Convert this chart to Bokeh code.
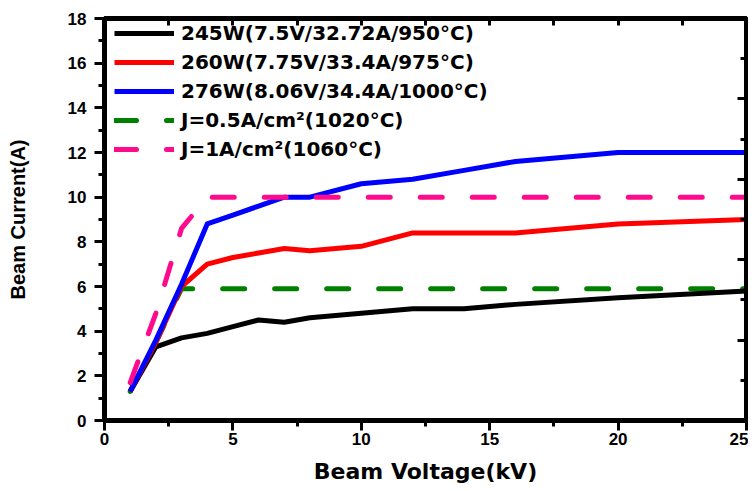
from bokeh.plotting import figure
from bokeh.models import (Range1d, LinearAxis, FixedTicker, SingleIntervalTicker,
                          Legend, LegendItem)
from bokeh.embed import file_html
from bokeh.resources import INLINE

# ---- data ----
voltage = [1, 2, 3, 4, 5, 6, 7, 8, 10, 12, 14, 16, 20, 25]
current_245w = [1.3, 3.3, 3.7, 3.9, 4.2, 4.5, 4.4, 4.6, 4.8, 5.0, 5.0, 5.2, 5.5, 5.8]
current_260w = [1.3, 3.5, 6.0, 7.0, 7.3, 7.5, 7.7, 7.6, 7.8, 8.4, 8.4, 8.4, 8.8, 9.0]
current_276w = [1.3, 3.6, 6.1, 8.8, 9.2, 9.6, 10.0, 10.0, 10.6, 10.8, 11.2, 11.6, 12.0, 12.0]
j05_voltage = [1, 2, 3, 25]
j05_current = [1.3, 3.5, 5.9, 5.9]
j1_voltage = [1, 2, 3, 4, 25]
j1_current = [1.7, 4.8, 8.6, 10.0, 10.0]

labels = ["245W(7.5V/32.72A/950°C)", "260W(7.75V/33.4A/975°C)",
          "276W(8.06V/34.4A/1000°C)", "J=0.5A/cm²(1020°C)", "J=1A/cm²(1060°C)"]
x_ticks = [0, 5, 10, 15, 20, 25]
x_minor = [2.5, 7.5, 12.5, 17.5, 22.5]
y_ticks = [0, 2, 4, 6, 8, 10, 12, 14, 16, 18]
y_minor = [1, 3, 5, 7, 9, 11, 13, 15, 17]
right_major = [0, 3.6, 7.2, 10.8, 14.4, 18]
right_minor = [1.8, 5.4, 9.0, 12.6, 16.2]

p = figure(width=748, height=489, output_backend="svg", toolbar_location=None,
           x_range=Range1d(0, 25), y_range=Range1d(0, 18),
           min_border_left=104, min_border_right=2, min_border_top=18, min_border_bottom=69,
           background_fill_color="white", border_fill_color="white")
p.grid.visible = False
p.outline_line_color = "black"
p.outline_line_width = 5

TICK_FONT = "Liberation Sans"

xa = p.xaxis[0]
xa.ticker = FixedTicker(ticks=x_ticks, minor_ticks=x_minor)
xa.axis_label = "Beam Voltage(kV)"
xa.axis_label_text_font = "DejaVu Sans"
xa.axis_label_text_font_style = "bold"
xa.axis_label_text_font_size = "22px"
xa.axis_label_standoff = 11
ya = p.yaxis[0]
ya.ticker = FixedTicker(ticks=y_ticks, minor_ticks=y_minor)
ya.axis_label = "Beam Current(A)"
ya.axis_label_text_font = "Liberation Sans"
ya.axis_label_text_font_style = "bold"
ya.axis_label_text_font_size = "20px"
ya.axis_label_standoff = 36

for ax, standoff in ((xa, 2), (ya, 8)):
    ax.axis_line_width = 5
    ax.axis_line_color = "black"
    ax.major_tick_out = 10
    ax.major_tick_in = 0
    ax.minor_tick_out = 6
    ax.minor_tick_in = 0
    ax.major_tick_line_width = 3
    ax.minor_tick_line_width = 3
    ax.major_label_text_font = TICK_FONT
    ax.major_label_text_font_style = "bold"
    ax.major_label_text_font_size = "17px"
    ax.major_label_text_color = "black"
    ax.axis_label_text_color = "black"
    ax.major_label_standoff = standoff

top = LinearAxis(ticker=SingleIntervalTicker(interval=2.5, num_minor_ticks=0))
right = LinearAxis(ticker=FixedTicker(ticks=right_major, minor_ticks=right_minor))
for ax, tin, mtin in ((top, 7, 0), (right, 9, 6)):
    ax.axis_line_width = 5
    ax.major_tick_in = tin
    ax.major_tick_out = 0
    ax.minor_tick_in = mtin
    ax.minor_tick_out = 0
    ax.major_tick_line_width = 3
    ax.minor_tick_line_width = 3
    ax.major_label_text_font_size = "1px"
    ax.major_label_text_color = None
    ax.major_label_standoff = 0
p.add_layout(top, "above")
p.add_layout(right, "right")

dash = "22 30"
r_j05 = p.line(j05_voltage, j05_current, line_color="#008000", line_width=5,
               line_dash=dash, line_cap="round", line_join="round")
r_245 = p.line(voltage, current_245w, line_color="black", line_width=5, line_join="round")
r_260 = p.line(voltage, current_260w, line_color="#FF0000", line_width=5, line_join="round")
r_276 = p.line(voltage, current_276w, line_color="#0000FF", line_width=5, line_join="round")
r_j1 = p.line(j1_voltage, j1_current, line_color="#FF0A8C", line_width=5,
              line_dash=dash, line_cap="round", line_join="round")

legend = Legend(items=[LegendItem(label=labels[0], renderers=[r_245]),
                       LegendItem(label=labels[1], renderers=[r_260]),
                       LegendItem(label=labels[2], renderers=[r_276]),
                       LegendItem(label=labels[3], renderers=[r_j05]),
                       LegendItem(label=labels[4], renderers=[r_j1])],
                location=(10, 257), margin=0, padding=0, spacing=1,
                glyph_width=60, glyph_height=28, label_height=28, label_standoff=7,
                label_text_font="DejaVu Sans", label_text_font_style="bold",
                label_text_font_size="20px", label_text_color="black",
                background_fill_alpha=0, border_line_color=None)
p.add_layout(legend)

open("out.html", "w").write(file_html(p, INLINE))
